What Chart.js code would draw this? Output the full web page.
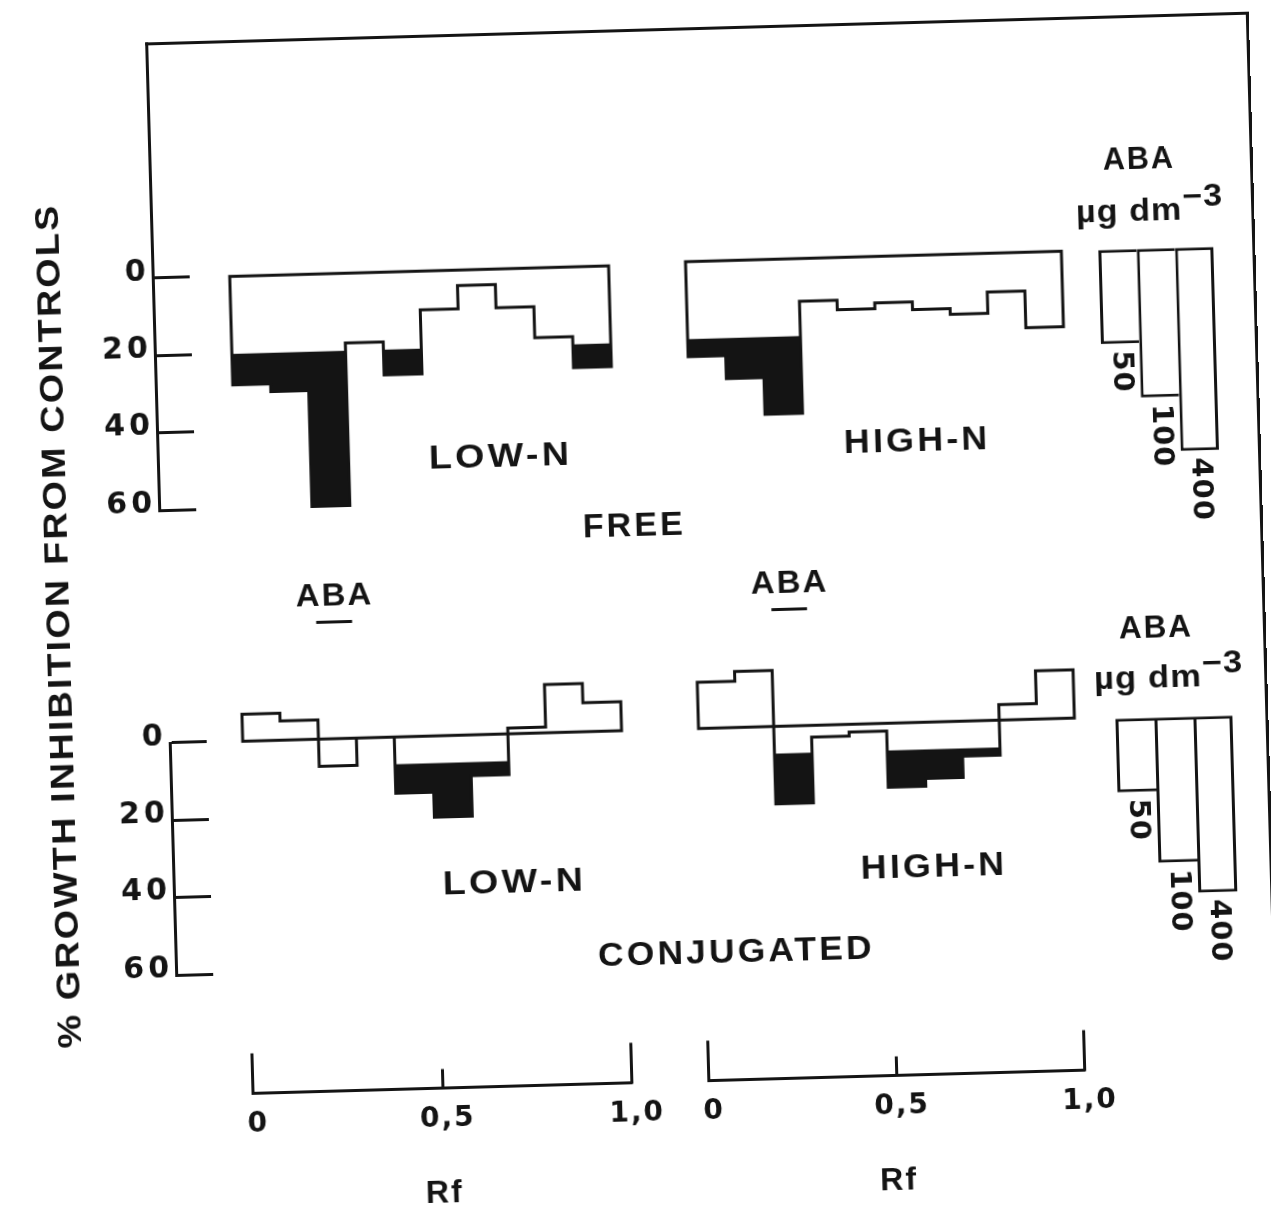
<!DOCTYPE html>
<html>
<head>
<meta charset="utf-8">
<title>Growth inhibition by free and conjugated extracts</title>
<script src="https://cdn.jsdelivr.net/npm/chart.js@4.4.1/dist/chart.umd.min.js"></script>
<style>
  html, body { margin: 0; padding: 0; background: #fff; }
  body { width: 1271px; height: 1206px; overflow: hidden; position: relative; }
  #sheet { position: absolute; left: 0; top: 0; width: 1271px; height: 1206px;
           transform: rotate(-1.6deg); transform-origin: 635.5px 603px; }
  #sheet canvas { position: absolute; }
  .txt { position: absolute; white-space: nowrap; color: #141414; line-height: 1;
         font-family: "Liberation Sans", Arial, sans-serif; font-weight: bold;
         transform-origin: 50% 50%; }
  .sup { position: relative; top: -0.42em; }
  .frame { position: absolute; box-sizing: border-box;
           border-top: 3px solid #141414; border-right: 3px solid #141414; }
</style>
</head>
<body>
<div id="sheet"></div>
<script>
// ---- data -------------------------------------------------------------
// Rf zones: lower edge of each tenth of the chromatogram
const rfBins = [0, 0.1, 0.2, 0.3, 0.4, 0.5, 0.6, 0.7, 0.8, 0.9];
const rfEnd = 1.0;
// % growth inhibition from controls per zone (negative = promotion)
const freeLowN  = [28, 30, 60, 18, 26.5, 10, 4, 10, 18, 26];
const freeHighN = [24.5, 30.5, 40, 11, 13.5, 12, 14, 15.5, 10, 19.5];
const conjLowN  = [-7, -5, 7, 0, 14.5, 21, 10.5, -1.5, -12.5, -7.5];
const conjHighN = [-12, -14.5, 20, 3, 2, 16.5, 14.5, 9, -4, -12.5];
// inhibition above which a zone is shaded
const freeActive = 20;
const conjActive = 7;
// authentic ABA standards (µg dm-3) and their inhibition
const abaDoses = ['50', '100', '400'];
const abaFreeStd = [24.3, 38.4, 52.5];
const abaConjStd = [19, 37.5, 45.5];
// Rf band of the ABA marker
const abaRf = [0.2, 0.3];
// axis ticks
const inhibitionTicks = [0, 20, 40, 60];
const rfTicks = [0, 0.5, 1];
const rfTickLabels = ['0', '0,5', '1,0'];

// ---- layout -----------------------------------------------------------
const K = 3.87;               // pixels per 1 % inhibition
const INK = '#141414';
const sheet = document.getElementById('sheet');
const LOW = { x0: 239, x1: 618 };
const HIGH = { x0: 695, x1: 1071 };

const baseOpts = () => ({
  responsive: false, animation: false, devicePixelRatio: 1,
  events: [],
  plugins: { legend: { display: false }, tooltip: { enabled: false } }
});

// spaced-out lettering for tick labels
const tracking = {
  id: 'tracking',
  beforeDraw(chart, args, opts) { chart.ctx.letterSpacing = opts.spacing || '0px'; }
};

function addCanvas(left, top, w, h) {
  const c = document.createElement('canvas');
  c.width = w; c.height = h;
  c.style.left = left + 'px'; c.style.top = top + 'px';
  c.style.width = w + 'px'; c.style.height = h + 'px';
  sheet.appendChild(c);
  return c;
}

// vertical value range whose pixel height is a whole number
function vRange(y0, vTop, vBottom) {
  const bottomPx = y0 + vBottom * K;
  const inner = Math.round((vBottom - vTop) * K);
  return { topPx: bottomPx - inner, inner, min: vBottom - inner / K, max: vBottom };
}

function outlinePoints(vals) {
  const pts = [{ x: rfBins[0], y: 0 }];
  vals.forEach((v, i) => pts.push({ x: rfBins[i], y: v }));
  pts.push({ x: rfEnd, y: vals[vals.length - 1] });
  pts.push({ x: rfEnd, y: 0 });
  pts.push({ x: rfBins[0], y: 0 });
  return pts;
}
function activePoints(vals, thr) {
  const pts = vals.map((v, i) => ({ x: rfBins[i], y: Math.max(v, thr) }));
  pts.push({ x: rfEnd, y: Math.max(vals[vals.length - 1], thr) });
  return pts;
}

// ABA marker (label + bar over the standard's Rf band)
const abaMarker = {
  id: 'abaMarker',
  afterDraw(chart, args, opts) {
    const xs = chart.scales.x, ys = chart.scales.y, ctx = chart.ctx;
    const xa = xs.getPixelForValue(abaRf[0]), xb = xs.getPixelForValue(abaRf[1]);
    const base = ys.getPixelForValue(0);
    ctx.save();
    ctx.strokeStyle = INK; ctx.lineWidth = 3;
    ctx.beginPath();
    ctx.moveTo(xa + 1, base - opts.barRise);
    ctx.lineTo(xb - 1, base - opts.barRise);
    ctx.stroke();
    ctx.translate((xa + xb) / 2, base - opts.textRise);
    ctx.scale(1.06, 1);
    ctx.fillStyle = INK;
    ctx.font = 'bold 31px "Liberation Sans"';
    ctx.letterSpacing = '2px';
    ctx.textAlign = 'center'; ctx.textBaseline = 'middle';
    ctx.fillText('ABA', 1, 0);
    ctx.restore();
  }
};

function histogram(vals, thr, span, y0, vTop, marker) {
  const PAD = 8;
  const vr = vRange(y0, vTop, 64);
  const w = span.x1 - span.x0;
  const c = addCanvas(span.x0 - PAD, vr.topPx - PAD, w + 2 * PAD, vr.inner + 2 * PAD);
  const opts = baseOpts();
  opts.layout = { padding: PAD };
  opts.scales = {
    x: { type: 'linear', display: false, min: 0, max: 1 },
    y: { type: 'linear', display: false, reverse: true, min: vr.min, max: vr.max }
  };
  if (marker) opts.plugins.abaMarker = marker;
  new Chart(c, {
    type: 'line',
    data: {
      datasets: [
        { data: outlinePoints(vals), stepped: true, borderColor: INK, borderWidth: 3,
          borderJoinStyle: 'miter', borderCapStyle: 'square', pointRadius: 0,
          fill: false, clip: false },
        { data: activePoints(vals, thr), stepped: true, borderColor: 'rgba(0,0,0,0)',
          borderWidth: 0, pointRadius: 0, backgroundColor: INK,
          fill: { value: thr }, clip: false }
      ]
    },
    options: opts,
    plugins: marker ? [abaMarker] : []
  });
}

// dose labels written down the page under each standard bar
const doseLabels = {
  id: 'doseLabels',
  afterDatasetsDraw(chart) {
    const meta = chart.getDatasetMeta(0), ctx = chart.ctx;
    ctx.save();
    ctx.fillStyle = INK;
    ctx.font = 'bold 29px "DejaVu Sans"';
    ctx.letterSpacing = '1px';
    ctx.textAlign = 'left'; ctx.textBaseline = 'middle';
    meta.data.forEach((bar, i) => {
      ctx.save();
      ctx.translate(bar.x, bar.y + 7);
      ctx.rotate(Math.PI / 2);
      ctx.fillText(chart.data.labels[i], 0, 0);
      ctx.restore();
    });
    ctx.restore();
  }
};

function standards(vals, x0, x1, y0) {
  const PAD = 6;
  const vr = vRange(y0, 0, 78);
  const w = Math.round(x1 - x0);
  const c = addCanvas(x0 - PAD, vr.topPx - PAD, w + 2 * PAD, vr.inner + 2 * PAD);
  const opts = baseOpts();
  opts.layout = { padding: PAD };
  opts.scales = {
    x: { type: 'category', display: false, offset: true },
    y: { type: 'linear', display: false, reverse: true, min: vr.min, max: vr.max }
  };
  new Chart(c, {
    type: 'bar',
    data: {
      labels: abaDoses,
      datasets: [{
        data: vals, backgroundColor: '#fff', borderColor: INK, borderSkipped: false,
        borderWidth: (ctx) => ({ top: 3, bottom: 3, left: 3,
                                 right: ctx.dataIndex === vals.length - 1 ? 3 : 0 }),
        barPercentage: 1, categoryPercentage: 1, inflateAmount: 0
      }]
    },
    options: opts,
    plugins: [doseLabels]
  });
}

function inhibitionAxis(axisX, y0, vTop) {
  const W = 90, PADV = 40, TICKW = 37;
  const vr = vRange(y0, vTop, 60);
  const c = addCanvas(axisX - W, vr.topPx - PADV, W + TICKW + 4, vr.inner + 2 * PADV);
  const opts = baseOpts();
  opts.layout = { padding: { left: 0, right: 4, top: PADV, bottom: PADV } };
  opts.plugins.tracking = { spacing: '4px' };
  opts.scales = {
    x: { type: 'linear', display: false, min: 0, max: 1 },
    y: {
      type: 'linear', position: 'left', reverse: true, min: vr.min, max: vr.max,
      afterFit: (s) => { s.width = W; },
      afterBuildTicks: (s) => { s.ticks = inhibitionTicks.map(v => ({ value: v })); },
      grid: { drawOnChartArea: true, drawTicks: false, color: INK, lineWidth: 3 },
      border: { display: true, color: INK, width: 3 },
      ticks: { padding: 3, labelOffset: -6, color: INK,
               font: { family: 'DejaVu Sans', weight: 'bold', size: 30 },
               callback: (v) => String(v) }
    }
  };
  new Chart(c, { type: 'line', data: { datasets: [] }, options: opts, plugins: [tracking] });
  return vr;
}

const rfTickMarks = {
  id: 'rfTickMarks',
  afterDraw(chart, args, opts) {
    const xs = chart.scales.x, ctx = chart.ctx, yb = chart.chartArea.bottom;
    ctx.save();
    ctx.strokeStyle = INK; ctx.lineWidth = 3; ctx.lineCap = 'square';
    ctx.beginPath();
    rfTicks.forEach((v, i) => {
      const px = Math.round(xs.getPixelForValue(v)) + 0.5;
      ctx.moveTo(px, yb);
      ctx.lineTo(px, yb - opts.len[i]);
    });
    ctx.stroke();
    ctx.restore();
  }
};

function rfAxis(span, axisY) {
  const TICK = 38, PADT = 10, AXH = 125, PADB = 6, PADX = 50;
  const w = span.x1 - span.x0;
  const c = addCanvas(span.x0 - PADX, axisY - TICK - PADT, w + 2 * PADX, PADT + TICK + AXH + PADB);
  const opts = baseOpts();
  opts.layout = { padding: { left: PADX, right: PADX, top: PADT, bottom: PADB } };
  opts.plugins.rfTickMarks = { len: [38, 17, 38] };
  opts.plugins.tracking = { spacing: '2px' };
  opts.scales = {
    x: {
      type: 'linear', position: 'bottom', min: 0, max: 1,
      afterFit: (s) => { s.height = AXH; },
      afterBuildTicks: (s) => { s.ticks = rfTicks.map(v => ({ value: v })); },
      grid: { drawOnChartArea: false, drawTicks: false },
      border: { display: true, color: INK, width: 3 },
      ticks: { autoSkip: false, maxRotation: 0, padding: 15, labelOffset: 5, color: INK,
               font: { family: 'DejaVu Sans', weight: 'bold', size: 28 },
               callback: (v, i) => rfTickLabels[i] },
      title: { display: true, text: 'Rf', color: INK,
               font: { family: 'Liberation Sans', weight: 'bold', size: 32 },
               padding: { top: 0, bottom: 0 } }
    },
    y: { type: 'linear', display: false, min: 0, max: 1 }
  };
  new Chart(c, { type: 'line', data: { datasets: [] }, options: opts,
                 plugins: [tracking, rfTickMarks] });
}

function putText(html, cx, cy, width, size, rot, spacing) {
  const d = document.createElement('div');
  d.className = 'txt';
  d.innerHTML = html;
  d.style.fontSize = size + 'px';
  d.style.letterSpacing = spacing + 'px';
  d.style.paddingLeft = spacing + 'px';
  sheet.appendChild(d);
  const sx = width / Math.max(1, d.offsetWidth - 2 * spacing);
  d.style.left = cx + 'px';
  d.style.top = cy + 'px';
  d.style.transform = `translate(-50%, -50%) rotate(${rot}deg) scaleX(${sx})`;
}

// ---- drawing ----------------------------------------------------------
// upper block: free fraction
const topAxis = inhibitionAxis(162, 265, -60.7);
histogram(freeLowN, freeActive, LOW, 265.5, -16);
histogram(freeHighN, freeActive, HIGH, 263.5, -16);
standards(abaFreeStd, 1108, 1223, 263);

// lower block: conjugated fraction
inhibitionAxis(166, 730, 0);
const marker = { barRise: 116.7, textRise: 141.7 };
histogram(conjLowN, conjActive, LOW, 730, -45, marker);
histogram(conjHighN, conjActive, HIGH, 730, -45, marker);
standards(abaConjStd, 1112, 1228.6, 732.5);

// Rf scales
rfAxis(LOW, 1082);
rfAxis(HIGH, 1082);

// outer frame (left side is the upper inhibition axis)
const frame = document.createElement('div');
frame.className = 'frame';
frame.style.left = '160.5px';
frame.style.top = (topAxis.topPx - 1.5) + 'px';
frame.style.width = (1264.5 - 160.5) + 'px';
frame.style.height = '1400px';
sheet.appendChild(frame);

// text
putText('LOW-N', 503, 451, 140, 33, 0, 3);
putText('HIGH-N', 920, 447, 143, 33, 0, 3);
putText('FREE', 635, 524, 100, 33, 0, 3);
putText('LOW-N', 505, 877, 140, 33, 0, 3);
putText('HIGH-N', 925, 873, 143, 33, 0, 3);
putText('CONJUGATED', 725, 953, 274, 33, 0, 3);
putText('ABA', 1150, 171.5, 70, 31, 0, 2);
putText('µg dm<span class="sup">−3</span>', 1160, 224, 146, 31, 0, 1);
putText('ABA', 1154, 641, 72, 31, 0, 2);
putText('µg dm<span class="sup">−3</span>', 1166, 691, 148, 31, 0, 1);
putText('% GROWTH INHIBITION FROM CONTROLS', 57, 611, 843, 34, -90, 2);
</script>
</body>
</html>
